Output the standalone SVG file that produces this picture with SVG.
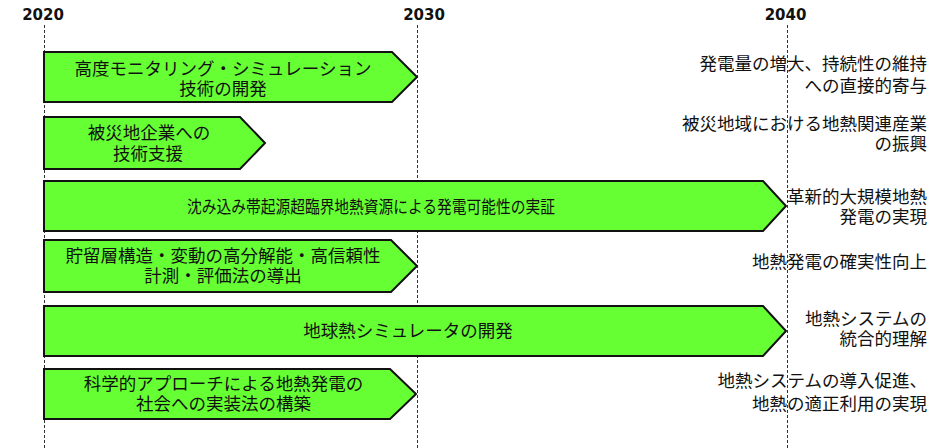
<svg xmlns="http://www.w3.org/2000/svg" width="946" height="448" viewBox="0 0 946 448">
<style>
.year{font-family:"DejaVu Sans",Verdana,sans-serif;font-weight:bold;font-size:15px;fill:#111;text-anchor:middle}
.bar{fill:#66FF33;stroke:#111;stroke-width:2;stroke-linejoin:miter}
.t{font-family:"Noto Sans CJK JP","Noto Sans",sans-serif;font-size:17.5px;fill:#111;text-anchor:middle}
.r{font-family:"Noto Sans CJK JP","Noto Sans",sans-serif;font-size:17.5px;fill:#111;text-anchor:end}
.grid{stroke:#333;stroke-width:1;stroke-dasharray:3 2;fill:none}
</style>
<rect width="946" height="448" fill="#fff"/>
<g id="years">
<text class="year" x="43" y="20">2020</text>
<text class="year" x="424" y="20">2030</text>
<text class="year" x="785.5" y="20">2040</text>
</g>
<g id="connectors">
<line class="grid" x1="44.5" y1="25" x2="44.5" y2="448"/>
<line class="grid" x1="417.5" y1="25" x2="417.5" y2="448"/>
<line class="grid" x1="787.5" y1="25" x2="787.5" y2="448"/>
</g>
<g id="bar1">
<polygon class="bar" points="44,52 392,52 417,77 392,102 44,102"/>
<text class="t" x="223" y="74.5">高度モニタリング・シミュレーション</text>
<text class="t" x="223" y="94.5">技術の開発</text>
</g>
<g id="bar2">
<polygon class="bar" points="44,117 240,117 265,143 240,169 44,169"/>
<text class="t" x="149" y="138.5">被災地企業への</text>
<text class="t" x="148" y="159.5">技術支援</text>
</g>
<g id="bar3">
<polygon class="bar" points="44,181 763,181 786,206 763,231 44,231"/>
<text class="t" x="371" y="212.5" textLength="368" lengthAdjust="spacingAndGlyphs">沈み込み帯起源超臨界地熱資源による発電可能性の実証</text>
</g>
<g id="bar4">
<polygon class="bar" points="44,240 391,240 417,266 391,292 44,292"/>
<text class="t" x="223" y="261.5">貯留層構造・変動の高分解能・高信頼性</text>
<text class="t" x="223" y="281.5">計測・評価法の導出</text>
</g>
<g id="bar5">
<polygon class="bar" points="44,306 763,306 786,331 763,356 44,356"/>
<text class="t" x="408" y="336.5">地球熱シミュレータの開発</text>
</g>
<g id="bar6">
<polygon class="bar" points="44,369 390,369 416,394 390,419 44,419"/>
<text class="t" x="223.5" y="389.5">科学的アプローチによる地熱発電の</text>
<text class="t" x="223.5" y="409.5">社会への実装法の構築</text>
</g>
<g id="outcome1">
<text class="r" x="927" y="69.5">発電量の増大、持続性の維持</text>
<text class="r" x="927" y="91.5">への直接的寄与</text>
</g>
<g id="outcome2">
<text class="r" x="927" y="129.5">被災地域における地熱関連産業</text>
<text class="r" x="927" y="149.5">の振興</text>
</g>
<g id="outcome3">
<text class="r" x="927" y="202.5">革新的大規模地熱</text>
<text class="r" x="927" y="222.5">発電の実現</text>
</g>
<g id="outcome4">
<text class="r" x="927" y="267.5">地熱発電の確実性向上</text>
</g>
<g id="outcome5">
<text class="r" x="927" y="324.5">地熱システムの</text>
<text class="r" x="927" y="345">統合的理解</text>
</g>
<g id="outcome6">
<text class="r" x="927" y="386.5">地熱システムの導入促進、</text>
<text class="r" x="927" y="409.5">地熱の適正利用の実現</text>
</g>
</svg>
